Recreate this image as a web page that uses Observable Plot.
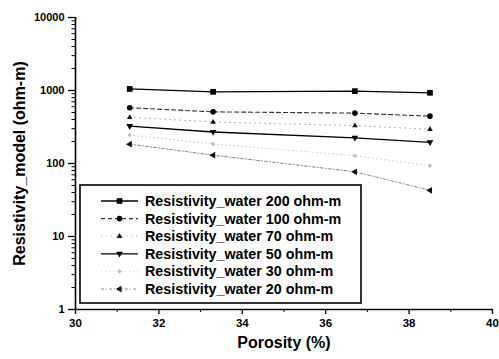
<!DOCTYPE html>
<html><head><meta charset="utf-8">
<script src="https://cdn.jsdelivr.net/npm/d3@7"></script>
<script src="https://cdn.jsdelivr.net/npm/@observablehq/plot@0.6"></script>
<style>
body{margin:0;background:#fff;}
#chart{width:499px;height:359px;}
</style>
</head><body><div id="chart"></div>
<script>
// ---- data ----
const porosity = [31.3, 33.3, 36.7, 38.5];
const seriesNames = [
  "Resistivity_water 200 ohm-m",
  "Resistivity_water 100 ohm-m",
  "Resistivity_water 70 ohm-m",
  "Resistivity_water 50 ohm-m",
  "Resistivity_water 30 ohm-m",
  "Resistivity_water 20 ohm-m"
];
const r200 = [1050, 960, 980, 930];
const r100 = [580, 510, 490, 445];
const r70  = [430, 370, 330, 295];
const r50  = [325, 270, 225, 195];
const r30  = [245, 185, 128, 93];
const r20  = [184, 130, 77, 43];
const xTicks = [30, 32, 34, 36, 38, 40];
const xMinor = [31, 33, 35, 37, 39];
const yTicks = [1, 10, 100, 1000, 10000];
const yMinor = [];
for (const d of [1, 10, 100, 1000]) for (let k = 2; k <= 9; k++) yMinor.push(d * k);

// ---- symbols ----
const triDown = {draw(ctx, size){ const r = Math.sqrt(size/Math.PI)*1.25;
  ctx.moveTo(0, r); ctx.lineTo(-r*0.9, -r*0.55); ctx.lineTo(r*0.9, -r*0.55); ctx.closePath(); }};
const triLeft = {draw(ctx, size){ const r = Math.sqrt(size/Math.PI)*1.25;
  ctx.moveTo(-r, 0); ctx.lineTo(r*0.55, -r*0.9); ctx.lineTo(r*0.55, r*0.9); ctx.closePath(); }};
const triUp = {draw(ctx, size){ const r = Math.sqrt(size/Math.PI)*1.2;
  ctx.moveTo(0, -r); ctx.lineTo(-r*0.9, r*0.55); ctx.lineTo(r*0.9, r*0.55); ctx.closePath(); }};
const square = {draw(ctx, size){ const r = Math.sqrt(size/Math.PI)*0.95;
  ctx.rect(-r, -r, 2*r, 2*r); }};
const circle = {draw(ctx, size){ const r = Math.sqrt(size/Math.PI);
  ctx.moveTo(r, 0); ctx.arc(0, 0, r, 0, 2*Math.PI); }};
const diamond = {draw(ctx, size){ const r = Math.sqrt(size/Math.PI)*1.1;
  ctx.moveTo(0,-r); ctx.lineTo(r,0); ctx.lineTo(0,r); ctx.lineTo(-r,0); ctx.closePath(); }};

const values = [r200, r100, r70, r50, r30, r20];
const styles = [
  {stroke:"#000", width:1.3, dash:null, symbol:square, fill:"#000", r:3},
  {stroke:"#333", width:1.1, dash:"4,3", symbol:circle, fill:"#000", r:2.8},
  {stroke:"#aaa", width:1, dash:"1,4", symbol:triUp, fill:"#111", r:2.6},
  {stroke:"#000", width:1.3, dash:null, symbol:triDown, fill:"#000", r:3},
  {stroke:"#ccc", width:1, dash:"1,3", symbol:diamond, fill:"#bbb", r:2},
  {stroke:"#888", width:1, dash:"3,2,1,2", symbol:triLeft, fill:"#111", r:3}
];

const rows = [];
seriesNames.forEach((name, i) => values[i].forEach((v, j) => rows.push({series: name, idx: i, x: porosity[j], y: v})));

const marks = [];
seriesNames.forEach((name, i) => {
  const st = styles[i];
  const data = rows.filter(d => d.idx === i);
  marks.push(Plot.line(data, {x:"x", y:"y", stroke: st.stroke, strokeWidth: st.width, strokeDasharray: st.dash}));
  marks.push(Plot.dot(data, {x:"x", y:"y", symbol: st.symbol, r: st.r, fill: st.fill, stroke: "none"}));
});

const font = "'Liberation Sans', Arial, sans-serif";
const plot = Plot.plot({
  width: 499, height: 359,
  marginLeft: 75, marginRight: 7, marginTop: 17, marginBottom: 50,
  style: {fontFamily: font, background: "#fff", color: "#000"},
  x: {domain: [30, 40]},
  y: {type: "log", domain: [1, 10000]},
  marks: [
    Plot.axisX({ticks: xTicks, tickSize: 5, tickPadding: 4, tickFormat: d => String(d), fontSize: 11.5, fontWeight: "bold", label: null, strokeWidth: 1.3}),
    Plot.axisX({ticks: xMinor, tickSize: 3, tickFormat: () => "", label: null}),
    Plot.axisY({ticks: yTicks, tickSize: 7, tickPadding: 4, tickFormat: d => String(d), fontSize: 11, fontWeight: "bold", label: null, strokeWidth: 1.3}),
    Plot.axisY({ticks: yMinor, tickSize: 3.5, tickFormat: () => "", label: null}),
    Plot.ruleX([30], {stroke: "#000", strokeWidth: 1.6}),
    Plot.ruleY([1], {stroke: "#000", strokeWidth: 1.6}),
    ...marks,
    Plot.text(["Porosity (%)"], {frameAnchor: "bottom", dy: 38, fontSize: 16, fontWeight: "bold", textAnchor: "middle"}),
    Plot.text(["Resistivity_model (ohm-m)"], {frameAnchor: "left", dx: -56, rotate: -90, fontSize: 16, fontWeight: "bold", textAnchor: "middle"})
  ]
});

// ---- legend inside the plot ----
const svg = d3.select(plot);
const lg = svg.append("g").attr("font-family", font).attr("text-anchor", "start");
lg.append("rect").attr("x", 80).attr("y", 185).attr("width", 281).attr("height", 118)
  .attr("fill", "#fff").attr("stroke", "#000").attr("stroke-width", 1.6);
seriesNames.forEach((name, i) => {
  const st = styles[i];
  const y = 201 + i * 17.6;
  lg.append("line").attr("x1", 101).attr("x2", 138).attr("y1", y).attr("y2", y)
    .attr("stroke", st.stroke).attr("stroke-width", st.width).attr("stroke-dasharray", st.dash);
  lg.append("path").attr("transform", `translate(119.5,${y})`)
    .attr("d", d3.symbol(st.symbol, Math.PI * st.r * st.r)()).attr("fill", st.fill);
  lg.append("text").attr("x", 145).attr("y", y).attr("dy", "0.35em")
    .attr("text-anchor", "start")
    .attr("font-size", 14.3).attr("font-weight", "bold").text(name);
});

document.getElementById("chart").appendChild(plot);
</script>
</body></html>
